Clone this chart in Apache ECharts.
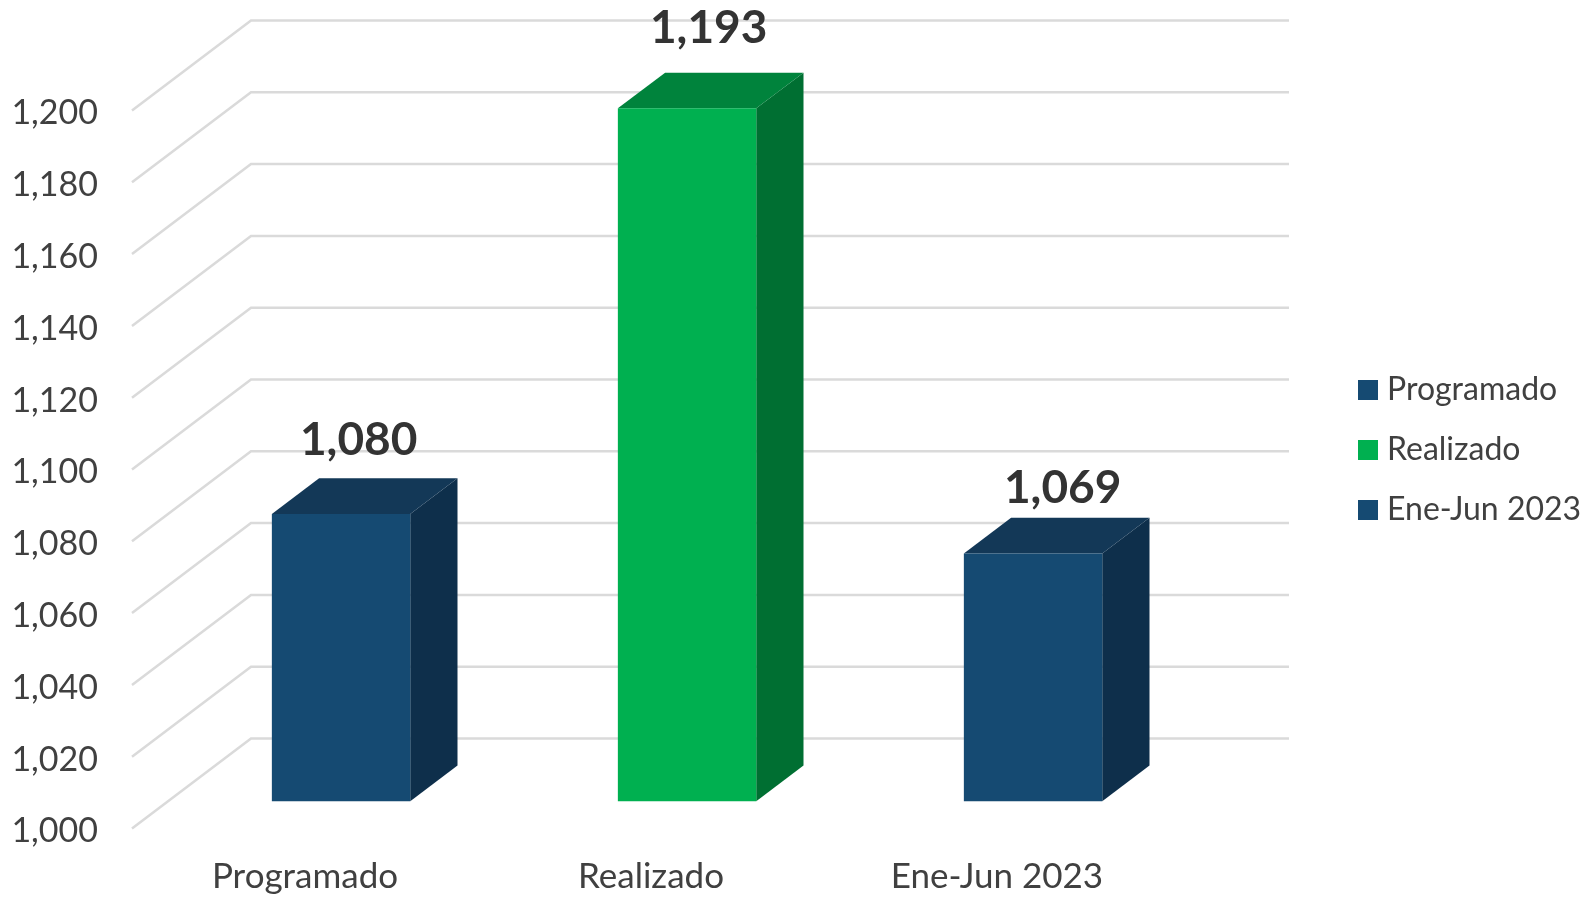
<!DOCTYPE html>
<html>
<head>
<meta charset="utf-8">
<style>html,body{margin:0;padding:0;background:#fff}#c{width:1591px;height:897px}</style>
<script src="https://cdn.jsdelivr.net/npm/echarts@6/dist/echarts.min.js"></script>
</head>
<body>
<div id="c"></div>
<script>
var categories = ['Programado', 'Realizado', 'Ene-Jun 2023'];
var values = [1080, 1193, 1069];
var ticks = [1000, 1020, 1040, 1060, 1080, 1100, 1120, 1140, 1160, 1180, 1200];
var faceColors = ['#154A72', '#00B050', '#154A72'];
var topColors = ['#133857', '#00833C', '#133857'];
var sideColors = ['#0E2F4B', '#006F32', '#0E2F4B'];

var DEPTH_X = 119, DEPTH_Y = 90, NEAR = 0.303, FAR = 0.70, BAR_FRACTION = 0.4;
var LABEL_NUDGE = [[-5, 6], [-1, 0], [7, 14]];
var FONT = 'Lato';
var TEXT = '#404040';

function wallItem(params, api) {
  var cs = params.coordSys;
  var y = api.coord([0, api.value(0)])[1];
  return {
    type: 'polyline',
    shape: { points: [[cs.x, y], [cs.x + DEPTH_X, y - DEPTH_Y], [cs.x + cs.width + DEPTH_X, y - DEPTH_Y]] },
    style: { stroke: '#DADADA', lineWidth: 2.5, fill: null }
  };
}

function barItem(i) {
  return function (params, api) {
    var p = api.coord([i, api.value(0)]);
    var base = api.coord([i, ticks[0]]);
    var w = api.size([1, 0])[0] * BAR_FRACTION;
    var nx = DEPTH_X * NEAR, ny = DEPTH_Y * NEAR;
    var fx = DEPTH_X * FAR, fy = DEPTH_Y * FAR;
    var l = p[0] - w / 2 + nx, r = p[0] + w / 2 + nx;
    var t = p[1] - ny, b = base[1] - ny;
    var dx = fx - nx, dy = fy - ny;
    return {
      type: 'group',
      children: [
        { type: 'polygon', shape: { points: [[r, t], [r + dx, t - dy], [r + dx, b - dy], [r, b]] },
          style: { fill: sideColors[i] } },
        { type: 'polygon', shape: { points: [[l, t], [l + dx, t - dy], [r + dx, t - dy], [r, t]] },
          style: { fill: topColors[i] } },
        { type: 'rect', shape: { x: l, y: t, width: r - l, height: b - t },
          style: { fill: faceColors[i] } },
        { type: 'text', x: (l + r + dx) / 2 - 1 + LABEL_NUDGE[i][0], y: t - dy - 44 + LABEL_NUDGE[i][1],
          style: { text: api.value(0).toLocaleString('en-US'), fill: '#333333', font: 'bold 46px ' + FONT,
                   textAlign: 'center', textVerticalAlign: 'middle' } }
      ]
    };
  };
}

var series = [{
  type: 'custom', name: 'walls', silent: true, clip: false, z: 1,
  data: ticks, encode: { y: 0 }, renderItem: wallItem
}];
categories.forEach(function (name, i) {
  series.push({
    type: 'custom', name: name, silent: true, clip: false, z: 2,
    itemStyle: { color: faceColors[i] },
    data: [values[i]], encode: { y: 0 }, renderItem: barItem(i)
  });
});

var chart = echarts.init(document.getElementById('c'), null, { renderer: 'canvas' });
chart.setOption({
  animation: false,
  backgroundColor: '#ffffff',
  grid: { left: 132, top: 110.5, width: 1038, height: 718 },
  xAxis: {
    type: 'category', data: categories,
    axisLine: { show: false }, axisTick: { show: false }, splitLine: { show: false },
    axisLabel: { color: TEXT, fontFamily: FONT, fontSize: 35, margin: 31 }
  },
  yAxis: {
    type: 'value', min: ticks[0], max: ticks[ticks.length - 1], interval: 20,
    axisLine: { show: false }, axisTick: { show: false }, splitLine: { show: false },
    axisLabel: {
      color: TEXT, fontFamily: FONT, fontSize: 34, margin: 34, padding: [0, 0, 0, 0],
      verticalAlign: 'middle', lineHeight: 30,
      formatter: function (v) { return '{n|' + v.toLocaleString('en-US') + '}'; },
      rich: { n: { color: TEXT, fontFamily: FONT, fontSize: 34, padding: [6, 0, 0, 0] } }
    }
  },
  legend: {
    orient: 'vertical', left: 1358, top: 374, padding: 0,
    itemWidth: 20, itemHeight: 20, itemGap: 28, icon: 'rect', selectedMode: false,
    data: categories,
    textStyle: { color: TEXT, fontFamily: FONT, fontSize: 32, padding: [0, 0, 0, 4] }
  },
  series: series
});
</script>
</body>
</html>
